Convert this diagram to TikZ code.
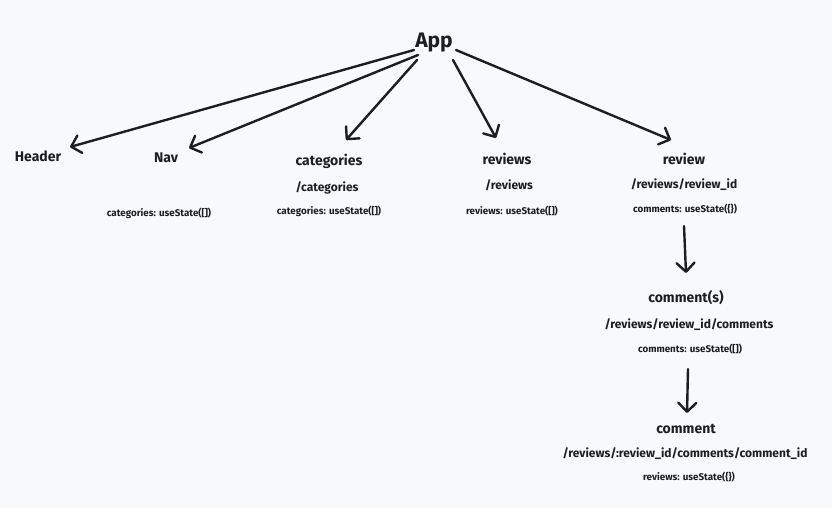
\documentclass[tikz,border=0pt]{standalone}
\usepackage{fontspec}
\setmainfont{Fira Sans}
\usetikzlibrary{arrows.meta}
\definecolor{bg}{HTML}{F8F9FA}
\definecolor{ink}{HTML}{1E1E1E}
\begin{document}
\begin{tikzpicture}[x=1pt,y=-1pt,
  every node/.style={text=ink, inner sep=0pt, anchor=center},
  big/.style={font=\fontsize{21}{24}\selectfont\bfseries},
  title/.style={font=\fontsize{14}{16}\selectfont\bfseries},
  path/.style={font=\fontsize{12}{14}\selectfont\bfseries},
  state/.style={font=\fontsize{9.8}{11}\selectfont\bfseries},
  conn/.style={draw=ink, line width=2.4pt, line cap=round,
    -{Straight Barb[length=9pt, width=18pt, line width=2.4pt, round]}}]
\fill[bg] (0,0) rectangle (832,508);
\useasboundingbox (0,0) rectangle (832,508);
% nodes
\node[big] (app) at (434,43) {App};
\node[title] (header) at (38,156) {Header};
\node[title] (nav) at (166,158) {Nav};
\node[state] (navs) at (159,213) {categories: useState([])};
\node[title] (cat) at (329,161) {categories};
\node[path] (catp) at (327,188) {/categories};
\node[state] (cats) at (329,211) {categories: useState([])};
\node[title] (revs) at (507,159) {reviews};
\node[path] (revsp) at (509,185) {/reviews};
\node[state] (revss) at (512,211) {reviews: useState([])};
\node[title] (rev) at (684,159) {review};
\node[path] (revp) at (684,185) {/reviews/review\_id};
\node[state] (revs2) at (685,209) {comments: useState(\{\})};
\node[title] (cms) at (686,298) {comment(s)};
\node[path] (cmsp) at (689,325) {/reviews/review\_id/comments};
\node[state] (cmss) at (690,349) {comments: useState([])};
\node[title] (cm) at (686,429) {comment};
\node[path] (cmp) at (685,454) {/reviews/:review\_id/comments/comment\_id};
\node[state] (cms2) at (689,477) {reviews: useState(\{\})};
% connector end points
\coordinate (a1) at (414,50);
\coordinate (a2) at (418,55);
\coordinate (a3) at (417,60);
\coordinate (a4) at (453,60);
\coordinate (a5) at (456,50);
\coordinate (h1) at (70,147);
\coordinate (n1) at (189,148);
\coordinate (c1) at (346,140);
\coordinate (r1) at (496,138);
\coordinate (v1) at (671,140);
\coordinate (v2) at (684,226);
\coordinate (s1) at (686,273);
\coordinate (s2) at (688,369);
\coordinate (m1) at (687,413);
\draw[conn] (a1) -- (h1);
\draw[conn] (a2) -- (n1);
\draw[conn] (a3) -- (c1);
\draw[conn] (a4) -- (r1);
\draw[conn] (a5) -- (v1);
\draw[conn] (v2) -- (s1);
\draw[conn] (s2) -- (m1);
\end{tikzpicture}
\end{document}
